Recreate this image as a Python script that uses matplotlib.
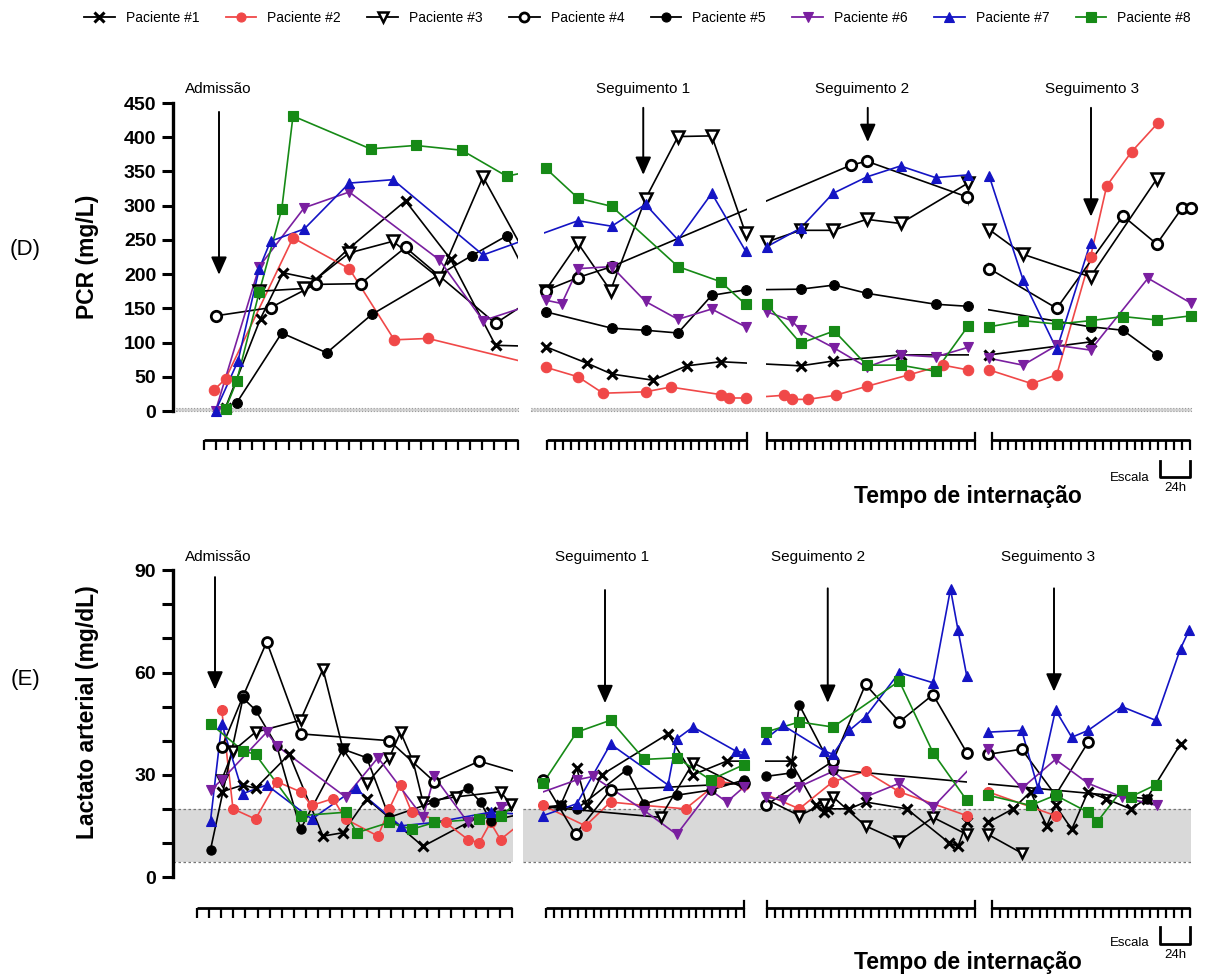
import matplotlib
matplotlib.use('Agg')
import matplotlib.pyplot as plt
from matplotlib.patches import Rectangle
from matplotlib.lines import Line2D
import numpy as np

plt.rcParams['font.family'] = ['Liberation Sans', 'DejaVu Sans']

W, H = 1206, 977

patients = ['Paciente #1', 'Paciente #2', 'Paciente #3', 'Paciente #4',
            'Paciente #5', 'Paciente #6', 'Paciente #7', 'Paciente #8']

# ---------------- PCR (mg/L) : time in hours since start of record ----------------
pcr_h1 = [42, 70, 88, 114, 141, 186, 222, 258, 298, 331, 351, 384, 411, 438, 502, 528, 582, 653, 734]
pcr_v1 = [5, 135, 202, 192, 238, 307, 222, 96, 94, 70, 54, 45, 66, 72, 66, 73, 82, 82, 101]
pcr_h2 = [33, 42, 96, 141, 177, 204, 298, 324, 344, 378, 398, 438, 445, 458, 489, 495, 508, 530,
          555, 589, 616, 636, 653, 687, 707, 734, 747, 767, 788]
pcr_v2 = [31, 47, 253, 208, 104, 106, 64, 50, 26, 28, 35, 24, 19, 19, 23, 17, 17, 23,
          36, 53, 67, 60, 60, 40, 53, 225, 329, 379, 421]
pcr_h3 = [69, 105, 141, 176, 213, 248, 298, 324, 350, 378, 404, 431, 458, 475, 502, 528, 555, 582,
          636, 653, 680, 734, 787]
pcr_v3 = [175, 179, 231, 248, 194, 342, 176, 245, 176, 310, 401, 402, 260, 247, 264, 264, 280, 274,
          333, 265, 229, 196, 339]
pcr_h4 = [34, 78, 114, 150, 186, 258, 298, 324, 351, 542, 555, 635, 653, 707, 760, 787, 807, 814]
pcr_v4 = [139, 151, 185, 186, 239, 128, 176, 195, 211, 359, 365, 313, 208, 150, 285, 244, 296, 296]
pcr_h5 = [51, 87, 123, 159, 239, 267, 298, 351, 378, 404, 431, 458, 502, 529, 555, 610, 636, 734, 760, 787]
pcr_v5 = [12, 114, 85, 141, 227, 256, 145, 121, 118, 114, 169, 177, 178, 184, 172, 156, 153, 123, 118, 82]
pcr_h6 = [34, 69, 105, 141, 213, 248, 298, 311, 324, 351, 378, 404, 431, 458, 475, 495, 502, 529,
          555, 582, 610, 636, 653, 680, 707, 734, 780, 814]
pcr_v6 = [0, 211, 297, 320, 221, 132, 162, 157, 208, 211, 160, 134, 149, 123, 145, 132, 118, 92,
          64, 82, 79, 93, 77, 67, 96, 89, 194, 158]
pcr_h7 = [34, 52, 69, 78, 105, 141, 176, 248, 324, 351, 378, 404, 431, 458, 475, 502, 528, 555,
          582, 610, 636, 653, 680, 707, 734]
pcr_v7 = [0, 73, 208, 248, 266, 333, 338, 228, 278, 270, 302, 250, 318, 234, 240, 267, 318, 342,
          358, 341, 345, 343, 192, 90, 246]
pcr_h8 = [42, 51, 69, 87, 96, 158, 194, 231, 267, 298, 324, 351, 404, 438, 458, 475, 502, 529,
          555, 582, 610, 636, 653, 680, 707, 734, 760, 787, 814]
pcr_v8 = [3, 44, 174, 295, 431, 383, 388, 381, 343, 355, 311, 299, 211, 189, 156, 156, 99, 117,
          67, 67, 58, 124, 123, 132, 127, 132, 138, 133, 139]

# ---------------- Lactato arterial (mg/dL) ----------------
lac_h1 = [39, 56, 66, 93, 120, 136, 155, 200, 236, 254, 310, 323, 331, 343, 396, 416, 443, 494, 514,
          521, 524, 541, 554, 587, 621, 628, 635, 652, 672, 686, 699, 706, 719, 732, 746, 766, 779, 806]
lac_v1 = [25, 27, 26, 36, 12, 13, 23, 9, 16, 19, 21, 32, 21, 30, 42, 30, 34, 34, 21,
          19, 20, 20, 22, 20, 10, 9, 16, 16, 20, 25, 15, 21, 14, 25, 23, 20, 23, 39]
lac_h2 = [39, 48, 66, 83, 102, 111, 128, 138, 164, 173, 182, 191, 218, 236, 245, 254, 262, 296, 330,
          350, 377, 410, 437, 457, 501, 528, 554, 581, 635, 652, 706]
lac_v2 = [49, 20, 17, 28, 25, 21, 23, 17, 12, 20, 27, 19, 16, 11, 10, 16, 11, 21, 15,
          22, 21, 20, 28, 27, 20, 28, 31, 25, 18, 25, 18]
lac_h3 = [39, 48, 66, 102, 120, 136, 155, 173, 182, 192, 200, 226, 262, 270, 390, 416, 501, 521, 528,
          554, 581, 608, 635, 652, 679]
lac_v3 = [28.5, 37, 42.5, 46, 61, 37.5, 27.5, 35, 42.5, 34, 22, 23.5, 25, 21.5, 17.5, 33.5, 18, 21.5, 23.5,
          15, 10.5, 17.5, 12.5, 12.5, 7]
lac_h4 = [39, 56, 75, 102, 173, 209, 245, 296, 322, 350, 457, 474, 528, 554, 581, 608, 635, 652, 679, 706, 732]
lac_v4 = [38, 53, 69, 42, 40, 28, 34, 28.5, 12.5, 25.5, 27.5, 21, 34, 56.5, 45.5, 53.5, 36.5, 36, 37.5, 24, 39.5]
lac_h5 = [30, 56, 66, 83, 102, 136, 155, 173, 209, 236, 246, 254, 310, 323, 363, 377, 403, 430, 457,
          474, 494, 501, 528, 779]
lac_v5 = [8, 52.5, 49, 38.5, 14, 37.5, 35, 17.5, 22, 26, 22, 16.5, 21, 20, 31.5, 21.5, 24, 25.5, 28.5,
          29.5, 30.5, 50.5, 31.5, 23]
lac_h6 = [30, 39, 75, 83, 138, 164, 200, 209, 236, 262, 323, 336, 377, 403, 430, 443, 457, 474, 488,
          501, 528, 554, 581, 608, 652, 679, 706, 732, 759, 787]
lac_v6 = [25.5, 28.5, 42.5, 38.5, 23.5, 35, 17.5, 29.5, 16, 20.5, 28.5, 29.5, 19.5, 12.5, 25.5, 22, 26.5, 23.5, 22.5,
          26.5, 31, 23.5, 27.5, 20.5, 37.5, 26, 34.5, 27.5, 23.5, 21]
lac_h7 = [30, 39, 56, 75, 111, 146, 182, 209, 254, 296, 323, 350, 396, 403, 416, 450, 457, 474, 488,
          521, 528, 541, 554, 581, 608, 622, 628, 635, 652, 679, 692, 706, 719, 732, 759, 786, 806, 813]
lac_v7 = [16.5, 45, 24.5, 27, 17, 26, 15, 16, 19, 18, 21.5, 39, 27, 40.5, 44, 37, 36.5, 40.5, 44.5,
          37, 36, 43, 47, 60, 57, 84.5, 72.5, 59, 42.5, 43, 26, 49, 41, 43, 50, 46, 67, 72.5]
lac_h8 = [30, 56, 66, 102, 138, 147, 173, 191, 209, 245, 262, 296, 323, 350, 377, 403, 430, 457, 474,
          501, 528, 581, 608, 635, 652, 686, 706, 732, 739, 759, 766, 786]
lac_v8 = [45, 37, 36, 18, 19, 13, 16, 14, 16, 17, 18, 27.5, 42.5, 46, 34.5, 35, 28.5, 33, 42.5,
          45.5, 44, 57.5, 36.5, 22.5, 24, 21, 24, 19, 16, 25.5, 23.5, 27]

pcr_h = [pcr_h1, pcr_h2, pcr_h3, pcr_h4, pcr_h5, pcr_h6, pcr_h7, pcr_h8]
pcr_v = [pcr_v1, pcr_v2, pcr_v3, pcr_v4, pcr_v5, pcr_v6, pcr_v7, pcr_v8]
lac_h = [lac_h1, lac_h2, lac_h3, lac_h4, lac_h5, lac_h6, lac_h7, lac_h8]
lac_v = [lac_v1, lac_v2, lac_v3, lac_v4, lac_v5, lac_v6, lac_v7, lac_v8]

event_labels = ['Admissão', 'Seguimento 1', 'Seguimento 2', 'Seguimento 3']

# ---------------- styles ----------------
RED = '#f04848'
PURPLE = '#7a1fa0'
BLUE = '#1414c4'
GREEN = '#168a16'
colors = ['black', RED, 'black', 'black', 'black', PURPLE, BLUE, GREEN]
markers = ['x', 'o', 'v', 'o', 'o', 'v', '^', 's']
faces = ['black', RED, 'white', 'white', 'black', PURPLE, BLUE, GREEN]
msizes = [7, 7.5, 8, 7.5, 7, 7.5, 7.5, 7]
mews = [2.2, 0.8, 1.8, 2.0, 0.8, 0.8, 0.8, 0.8]

PXH = 1.25          # pixels per hour
X0 = 173            # pixel of time 0 (y axis)
XMAX = (1195 - X0) / PXH

fig = plt.figure(figsize=(W / 100, H / 100), dpi=100)


def draw_panel(ax, times, values, windows, ms_scale=1.0):
    for i in range(8):
        t = np.asarray(times[i], float)
        v = np.asarray(values[i], float)
        for (a, b) in windows:
            ln, = ax.plot(t, v, color=colors[i], lw=1.2, zorder=2 + i * 0.1)
            ln.set_clip_path(Rectangle((a, -1000), b - a, 3000, transform=ax.transData))
        inside = np.zeros(len(t), bool)
        for (a, b) in windows:
            inside |= (t >= a - 0.6) & (t <= b + 0.6)
        ax.plot(t[inside], v[inside], ls='none', marker=markers[i], ms=msizes[i] * ms_scale,
                mfc=faces[i], mec=colors[i], mew=mews[i], clip_on=False, zorder=3 + i * 0.1)


def style_y(ax, top, ticks, labels):
    for sp in ['top', 'right', 'bottom']:
        ax.spines[sp].set_visible(False)
    ax.spines['left'].set_linewidth(2.4)
    ax.spines['left'].set_bounds(0, top)
    ax.set_xticks([])
    ax.set_yticks(ticks)
    ax.set_yticklabels(labels)
    ax.tick_params(axis='y', direction='out', length=8, width=2.2, labelsize=14, pad=4)
    for lab in ax.get_yticklabels():
        lab.set_fontweight('bold')
    ax.patch.set_alpha(0)


def arrow(ax, x, y0, y1, text, ytext, xtext):
    ax.annotate('', xy=(x, y1), xytext=(x, y0),
                arrowprops=dict(arrowstyle='-|>,head_length=0.9,head_width=0.4',
                                color='black', lw=1.4, mutation_scale=12,
                                shrinkA=0, shrinkB=0), zorder=6)
    ax.text(xtext, ytext, text, ha='center', va='center', fontsize=11)


def tick_rows(py_line, segs, nticks, talls):
    for (s, e), n, tl in zip(segs, nticks, talls):
        lp = X0 + s * PXH
        wp = (e - s) * PXH
        tax = fig.add_axes([lp / W, 1 - py_line / H, wp / W, 7 / H])
        tax.set_xlim(s, e)
        tax.set_ylim(0, 1)
        for sp in ['top', 'left', 'right']:
            tax.spines[sp].set_visible(False)
        tax.spines['bottom'].set_linewidth(2.0)
        tax.spines['bottom'].set_capstyle('butt')
        tax.set_xticks(np.linspace(s, e, n))
        tax.set_xticklabels([])
        tax.set_yticks([])
        tax.tick_params(axis='x', direction='out', length=7.5, width=1.6)
        tax.patch.set_alpha(0)
        for x in tl:
            tax.axvline(x, 0, 1, color='black', lw=1.6, clip_on=False)


def scale_bar(py_text, py_top, py_bot):
    fig.text(1130 / W, 1 - py_text / H, 'Escala', ha='center', va='center', fontsize=9.5)
    x1 = 1160
    x2 = x1 + 24 * PXH
    fig.add_artist(Line2D([x1 / W, x1 / W, x2 / W, x2 / W],
                          [1 - py_top / H, 1 - py_bot / H, 1 - py_bot / H, 1 - py_top / H],
                          color='black', lw=2.0, transform=fig.transFigure))
    fig.text((x1 + x2) / 2 / W, 1 - (py_bot + 11) / H, '24h', ha='center', va='center', fontsize=9.5)


# ---------------- top panel: PCR ----------------
ppu_top = 0.6844
ylo_t, yhi_t = -15, 465
bot_px = 411 + (-ylo_t) * ppu_top
hgt_px = (yhi_t - ylo_t) * ppu_top
axT = fig.add_axes([X0 / W, 1 - bot_px / H, (1195 - X0) / W, hgt_px / H])
axT.set_xlim(0, XMAX)
axT.set_ylim(ylo_t, yhi_t)
style_y(axT, 450, np.arange(0, 451, 50), [str(v) for v in range(0, 451, 50)])
for (a, b) in [(2, 276), (286, 814)]:
    axT.add_patch(Rectangle((a, 0), b - a, 5, facecolor='#d2d2d2', edgecolor='#9a9a9a',
                            lw=0.8, ls=':', zorder=1))
top_windows = [(0, 276), (297, 459.5), (474.4, 637), (652, 815.5)]
draw_panel(axT, pcr_h, pcr_v, top_windows)
axT.set_ylabel('PCR (mg/L)', fontsize=16.5, fontweight='bold')
axT.yaxis.set_label_coords(-0.072, 0.5)

arrow(axT, 36.8, 437, 199, event_labels[0], 470, 36.2)
arrow(axT, 376.2, 443, 345, event_labels[1], 470, 376.2)
arrow(axT, 555.8, 443, 393, event_labels[2], 470, 551)
arrow(axT, 734.4, 443, 284, event_labels[3], 470, 735)

# ---------------- bottom panel: Lactato ----------------
ppu_bot = 3.408
ylo_b, yhi_b = -3, 94
bot_px_b = 877 + (-ylo_b) * ppu_bot
hgt_px_b = (yhi_b - ylo_b) * ppu_bot
axB = fig.add_axes([X0 / W, 1 - bot_px_b / H, (1195 - X0) / W, hgt_px_b / H])
axB.set_xlim(0, XMAX)
axB.set_ylim(ylo_b, yhi_b)
style_y(axB, 90, np.arange(0, 91, 10), ['0', '', '', '30', '', '', '60', '', '', '90'])
for (a, b) in [(0, 272), (280, 814)]:
    axB.add_patch(Rectangle((a, 4.5), b - a, 15.5, facecolor='#d9d9d9', lw=0, zorder=1))
    axB.plot([a, b], [20, 20], color='#777777', lw=0.9, ls=(0, (2, 2)), zorder=1.5)
    axB.plot([a, b], [4.5, 4.5], color='#777777', lw=0.9, ls=(0, (2, 2)), zorder=1.5)
bot_windows = [(0, 272.2), (296, 457.6), (473.6, 635.2), (652, 814)]
draw_panel(axB, lac_h, lac_v, bot_windows, ms_scale=0.95)
axB.set_ylabel('Lactato arterial (mg/dL)', fontsize=16.5, fontweight='bold')
axB.yaxis.set_label_coords(-0.072, 0.53)

arrow(axB, 33.6, 88, 55, event_labels[0], 94, 36.2)
arrow(axB, 345.6, 84.2, 51, event_labels[1], 94, 343)
arrow(axB, 523.8, 84.7, 51.1, event_labels[2], 94, 516)
arrow(axB, 704.8, 84.7, 54.4, event_labels[3], 94, 700)

# ---------------- time tick rows ----------------
tick_rows(440, [(24.8, 276), (299.2, 459.2), (475.2, 641.6), (655.2, 813.6)],
          [27, 26, 27, 26], [[], [459.2], [475.2, 641.6], [655.2]])
tick_rows(908, [(19.2, 271.2), (298.4, 456.8), (475.2, 641.6), (655.2, 813.6)],
          [27, 26, 27, 26], [[], [456.8], [475.2, 641.6], [655.2]])

scale_bar(478, 461, 477)
scale_bar(943, 927, 944)

fig.text(968 / W, 1 - 497 / H, 'Tempo de internação', ha='center', va='center',
         fontsize=16.5, fontweight='bold')
fig.text(968 / W, 1 - 962 / H, 'Tempo de internação', ha='center', va='center',
         fontsize=16.5, fontweight='bold')

fig.text(25 / W, 1 - 250 / H, '(D)', ha='center', va='center', fontsize=16)
fig.text(25 / W, 1 - 680 / H, '(E)', ha='center', va='center', fontsize=16)

# ---------------- legend ----------------
handles = [Line2D([], [], color=colors[i], marker=markers[i], ms=6.5, mfc=faces[i],
                  mec=colors[i], mew=mews[i], lw=1.3) for i in range(8)]
fig.legend(handles, patients, loc='center', bbox_to_anchor=(0.5286, 1 - 18 / H), ncol=8,
           frameon=False, fontsize=10, handlelength=2.2, columnspacing=1.9, handletextpad=0.8)

fig.savefig('out.png', dpi=100)
